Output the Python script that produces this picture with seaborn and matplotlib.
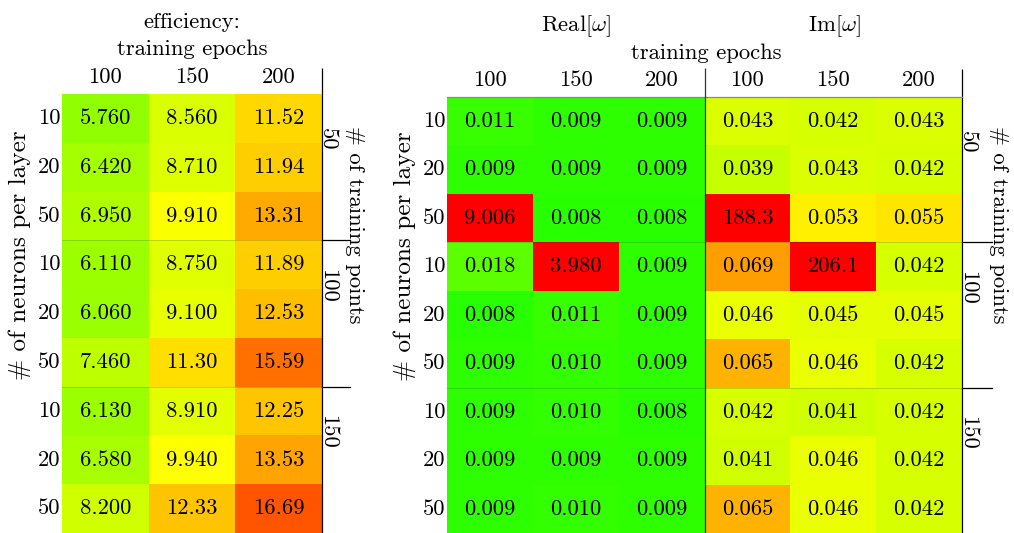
import numpy as np
import matplotlib
matplotlib.use("Agg")
import matplotlib.pyplot as plt
import seaborn as sns
from matplotlib.colors import LinearSegmentedColormap
import matplotlib.transforms as mtransforms

# ---------------- data ----------------
epochs = ["100", "150", "200"]
neurons = ["10", "20", "50"]
train_points = ["50", "100", "150"]

efficiency = [
    [5.760, 8.560, 11.52],
    [6.420, 8.710, 11.94],
    [6.950, 9.910, 13.31],
    [6.110, 8.750, 11.89],
    [6.060, 9.100, 12.53],
    [7.460, 11.30, 15.59],
    [6.130, 8.910, 12.25],
    [6.580, 9.940, 13.53],
    [8.200, 12.33, 16.69],
]
real_err = [
    [0.011, 0.009, 0.009],
    [0.009, 0.009, 0.009],
    [9.006, 0.008, 0.008],
    [0.018, 3.980, 0.009],
    [0.008, 0.011, 0.009],
    [0.009, 0.010, 0.009],
    [0.009, 0.010, 0.008],
    [0.009, 0.009, 0.009],
    [0.009, 0.010, 0.009],
]
imag_err = [
    [0.043, 0.042, 0.043],
    [0.039, 0.043, 0.042],
    [188.3, 0.053, 0.055],
    [0.069, 206.1, 0.042],
    [0.046, 0.045, 0.045],
    [0.065, 0.046, 0.042],
    [0.042, 0.041, 0.042],
    [0.041, 0.046, 0.042],
    [0.065, 0.046, 0.042],
]


def fmt4(v):
    if v < 10:
        return f"{v:.3f}"
    if v < 100:
        return f"{v:.2f}"
    return f"{v:.1f}"


plt.rcParams["font.family"] = "cmr10"
plt.rcParams["mathtext.fontset"] = "cm"
plt.rcParams["axes.formatter.use_mathtext"] = True

FS = 16.3
W, H = 1014, 533
fig = plt.figure(figsize=(W / 100, H / 100), dpi=100)

def fx(px):
    return px / W

def fy(py):
    return 1 - py / H

cmap = LinearSegmentedColormap.from_list("gyr", ["#00ff00", "#ffff00", "#ff0000"])

# ---------------- left heatmap ----------------
axL = fig.add_axes([fx(62), 0, (322 - 62) / W, (533 - 94) / H])
eff = np.array(efficiency)
annL = np.vectorize(fmt4)(eff)
sns.heatmap(eff, ax=axL, cmap=cmap, vmin=0, vmax=20, cbar=False,
            annot=annL, fmt="", annot_kws=dict(color="black", fontsize=FS),
            xticklabels=epochs, yticklabels=neurons * 3)

# ---------------- right heatmap ----------------
axR = fig.add_axes([fx(447), 0, (962 - 447) / W, (533 - 97) / H])
err = np.hstack([np.array(real_err), np.array(imag_err)])
annR = np.vectorize(fmt4)(err)
sns.heatmap(err, ax=axR, cmap=cmap, vmin=0, vmax=0.1, cbar=False,
            annot=annR, fmt="", annot_kws=dict(color="black", fontsize=FS),
            xticklabels=epochs * 2, yticklabels=neurons * 3)

for ax, ext_top, ext_right, npx_w in [(axL, 26, 28, 260), (axR, 28, 30, 515)]:
    ax.xaxis.tick_top()
    ax.tick_params(axis="both", length=0, labelsize=FS)
    ax.tick_params(axis="x", pad=5)
    ax.tick_params(axis="y", pad=1)
    plt.setp(ax.get_xticklabels(), rotation=0)
    plt.setp(ax.get_yticklabels(), rotation=0)
    h_px = ax.get_position().height * H
    # right spine extending above
    ax.plot([1, 1], [0, 1 + ext_top / h_px], transform=ax.transAxes,
            color="black", lw=0.9, clip_on=False, solid_capstyle="butt")
    # group separators
    tr = mtransforms.blended_transform_factory(ax.transAxes, ax.transData)
    for yb in (3, 6):
        ax.plot([0, 1], [yb, yb], transform=tr, color="black", lw=0.6,
                alpha=0.18, clip_on=False)
        ax.plot([1, 1 + ext_right / npx_w], [yb, yb], transform=tr,
                color="black", lw=0.9, clip_on=False)
    for gi, lab in enumerate(train_points):
        ax.text(1 - 4.0 / npx_w, 3 * gi + 0.93, lab, transform=tr,
                rotation=270, ha="left", va="center", fontsize=FS)

# right heatmap: gray top line and middle separator
axR.plot([0, 1], [1, 1], transform=axR.transAxes, color="#888888", lw=0.9,
         clip_on=False)
trR = mtransforms.blended_transform_factory(axR.transData, axR.transAxes)
h_px = axR.get_position().height * H
axR.plot([3, 3], [0, 1 + 29 / h_px], transform=trR, color="#333333", lw=0.9,
         clip_on=False, solid_capstyle="butt")

# ---------------- labels ----------------
fig.text(fx(192), fy(22), "efficiency:", ha="center", va="center", fontsize=FS)
fig.text(fx(192), fy(49), "training epochs", ha="center", va="center", fontsize=FS)
fig.text(fx(706), fy(53), "training epochs", ha="center", va="center", fontsize=FS)
fig.text(fx(576), fy(26), r"$\mathrm{Real}[\omega]$", ha="center", va="center", fontsize=FS)
fig.text(fx(834), fy(26), r"$\mathrm{Im}[\omega]$", ha="center", va="center", fontsize=FS)

FS_Y = 18.2
fig.text(fx(20), fy(255), "# of neurons per layer", rotation=90,
         ha="center", va="center", fontsize=FS_Y)
fig.text(fx(405), fy(256), "# of neurons per layer", rotation=90,
         ha="center", va="center", fontsize=FS_Y)
fig.text(fx(355), fy(225), "# of training points", rotation=270,
         ha="center", va="center", fontsize=FS)
fig.text(fx(999), fy(225), "# of training points", rotation=270,
         ha="center", va="center", fontsize=FS)

fig.savefig("out.png", dpi=100)
